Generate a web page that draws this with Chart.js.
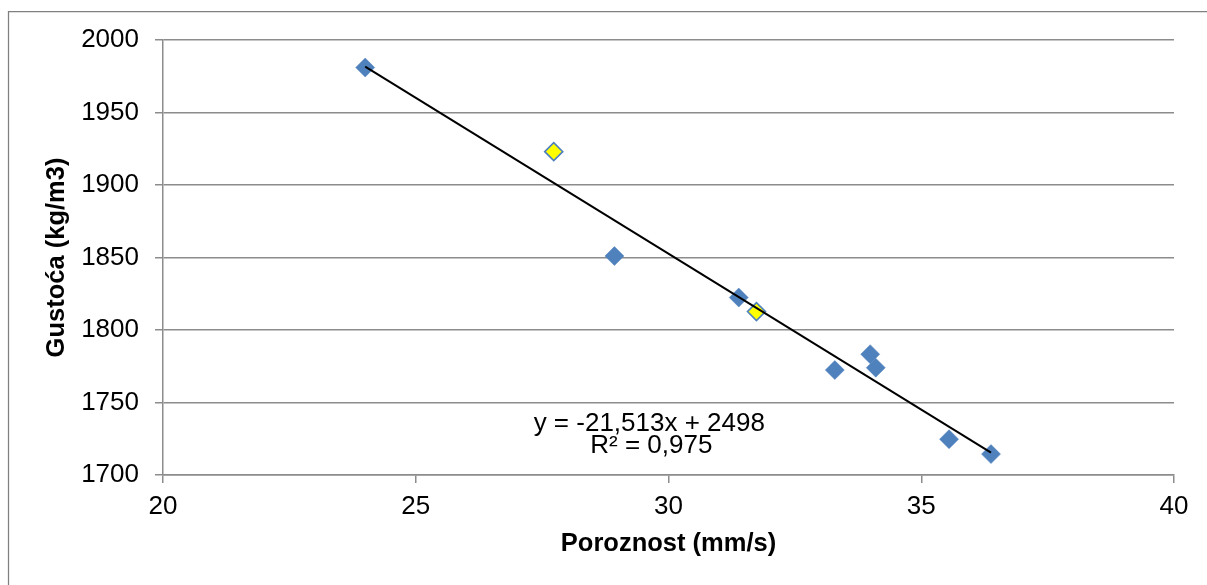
<!DOCTYPE html>
<html>
<head>
<meta charset="utf-8">
<title>Gustoća / Poroznost</title>
<script src="https://cdn.jsdelivr.net/npm/chart.js@4/dist/chart.umd.min.js"></script>
<style>
  html, body { margin: 0; padding: 0; background: #fff; }
  #wrap { width: 1207px; height: 585px; }
</style>
</head>
<body>
<div id="wrap"><canvas id="Mychart" width="1207" height="585"></canvas></div>
<script>
// values
var blueX = [24.0, 28.93, 31.39, 33.29, 33.99, 34.10, 35.55, 36.38];
var blueY = [1981, 1851, 1822.4, 1772.4, 1783.3, 1774.0, 1724.7, 1714.4];
var yellowX = [27.73, 31.74];
var yellowY = [1923, 1812.7];
// trendline end points (y = -21,513x + 2498)
var trendX = [24.0, 36.38];
var trendY = [1981.7, 1715.4];

var xTicks = [20, 25, 30, 35, 40];
var yTicks = [1700, 1750, 1800, 1850, 1900, 1950, 2000];
var eqLines = ['y = -21,513x + 2498', 'R\u00b2 = 0,975'];

function toPoints(xs, ys){
    return xs.map(function(x, i){ return {x: x, y: ys[i]}; });
}

var gridGray = '#8c8c8c';
var blue = '#4F81BD';
var fontFam = '"Liberation Sans", Arial, sans-serif';

var frame = {
    id: 'frame',
    beforeDraw: function(chart){
        var c = chart.ctx;
        c.save();
        c.strokeStyle = '#808080';
        c.lineWidth = 1.25;
        c.beginPath();
        c.moveTo(8.5, 585);
        c.lineTo(8.5, 11.5);
        c.lineTo(1207, 11.5);
        c.stroke();
        c.restore();
    }
};

var equation = {
    id: 'equation',
    afterDatasetsDraw: function(chart){
        var c = chart.ctx;
        var px = chart.scales.x.getPixelForValue(29.62);
        var py = chart.scales.y.getPixelForValue(1730.5);
        c.save();
        c.fillStyle = '#000';
        c.font = '26px ' + fontFam;
        c.textAlign = 'center';
        c.textBaseline = 'alphabetic';
        c.fillText(eqLines[0], px, py);
        c.fillText(eqLines[1], px + 2, py + 22.6);
        c.restore();
    }
};

const ctx = document.getElementById('Mychart');

var chart = new Chart(ctx, {
    type: 'scatter',
    data: {
        datasets: [{
            label: 'trend',
            type: 'line',
            data: toPoints(trendX, trendY),
            borderColor: '#000000',
            borderWidth: 2,
            pointRadius: 0,
            fill: false,
            order: 0
        }, {
            label: 'yellow',
            data: toPoints(yellowX, yellowY),
            pointStyle: 'rectRot',
            pointRadius: 9,
            backgroundColor: '#FFFF00',
            borderColor: blue,
            borderWidth: 1.6,
            order: 1
        }, {
            label: 'blue',
            data: toPoints(blueX, blueY),
            pointStyle: 'rectRot',
            pointRadius: 9.5,
            backgroundColor: blue,
            borderColor: blue,
            borderWidth: 0.5,
            order: 2
        }]
    },
    options: {
        responsive: false,
        animation: false,
        devicePixelRatio: 1,
        layout: {
            padding: {left: 0, top: 40, right: 33, bottom: 0}
        },
        plugins: {
            legend: {display: false},
            tooltip: {enabled: false}
        },
        scales: {
            x: {
                type: 'linear',
                min: 20,
                max: 40,
                afterBuildTicks: function(scale){
                    scale.ticks = xTicks.map(function(v){ return {value: v}; });
                },
                afterFit: function(scale){
                    scale.height = 110;
                },
                grid: {
                    drawOnChartArea: false,
                    drawTicks: true,
                    tickLength: 8,
                    color: gridGray,
                    lineWidth: 1.5
                },
                border: {color: gridGray, width: 1.5},
                ticks: {
                    color: '#000',
                    padding: 8.4,
                    maxRotation: 0,
                    callback: function(v){ return String(v); },
                    font: {family: fontFam, size: 26}
                },
                title: {
                    display: true,
                    text: 'Poroznost (mm/s)',
                    color: '#000',
                    padding: {top: 0, bottom: 25.5},
                    font: {family: fontFam, size: 25.5, weight: 'bold'}
                }
            },
            y: {
                type: 'linear',
                min: 1700,
                max: 2000,
                afterBuildTicks: function(scale){
                    scale.ticks = yTicks.map(function(v){ return {value: v}; });
                },
                afterFit: function(scale){
                    scale.width = 163;
                },
                grid: {
                    color: gridGray,
                    lineWidth: 1.5,
                    tickLength: 8
                },
                border: {color: gridGray, width: 1.5},
                ticks: {
                    color: '#000',
                    padding: 16,
                    callback: function(v){ return String(v); },
                    font: {family: fontFam, size: 26}
                },
                title: {
                    display: true,
                    text: 'Gustoća (kg/m3)',
                    color: '#000',
                    padding: {top: 42, bottom: 0},
                    font: {family: fontFam, size: 25.5, weight: 'bold'}
                }
            }
        }
    },
    plugins: [frame, equation]
});
</script>
</body>
</html>
